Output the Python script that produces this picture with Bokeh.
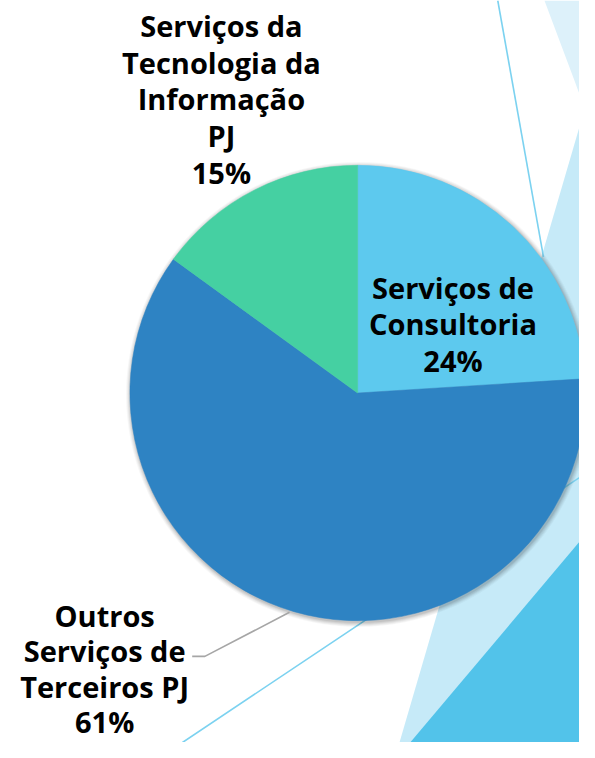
import math
from bokeh.plotting import figure
from bokeh.models import ColumnDataSource, Range1d
from bokeh.core.properties import value
from bokeh.embed import file_html
from bokeh.resources import INLINE

# ---- data ----
categories = ["Serviços de Consultoria",
              "Outros Serviços de Terceiros PJ",
              "Serviços da Tecnologia da Informação PJ"]
shares = [24, 61, 15]
label_lines = [["Serviços de", "Consultoria"],
               ["Outros", "Serviços de", "Terceiros PJ"],
               ["Serviços da", "Tecnologia da", "Informação", "PJ"]]
slice_colors = ["#5DC9EE", "#2E83C3", "#45D0A2"]

# ---- layout (reference-pixel coordinates, y downward -> negated) ----
W, H = 579, 742
CX, CY, R = 367, 401, 234
label_pos = [(465, 293, 37.3), (107, 628, 36.3), (227, 26, 37.3)]
FONT = "Open Sans"
FSIZE = "29px"

def Y(py):
    return -py

p = figure(width=W, height=H, output_backend="svg", toolbar_location=None,
           x_range=Range1d(0, 595), y_range=Range1d(Y(758), Y(0)),
           min_border=0, background_fill_color="white", border_fill_color="white")
p.axis.visible = False
p.grid.visible = False
p.outline_line_color = None

# ---- background decoration ----
p.patch([559, 640, 640], [Y(0), Y(0), Y(215)], fill_color="#DDF1FA", line_color=None)
p.patch([410, 600, 640, 640], [Y(758), Y(112), Y(0), Y(800)], fill_color="#C6EAF8", line_color=None)
p.patch([421, 600, 640, 640], [Y(758), Y(547), Y(500), Y(800)], fill_color="#52C3EA", line_color=None)
p.line([511, 558], [Y(0), Y(262)], line_color="#7CD2F0", line_width=1.6)
p.line([187, 372, 600], [Y(758), Y(635), Y(484)], line_color="#7CD2F0", line_width=1.6)

# ---- soft shadow ----
for k, a in [(5, 0.03), (4, 0.04), (3, 0.05), (2, 0.06), (1, 0.07)]:
    p.circle(x=[CX + 1], y=[Y(CY + 1.5)], radius=R + k, fill_color="black",
             fill_alpha=a, line_color=None)

# ---- pie ----
total = sum(shares)
starts, ends, cum = [], [], 0.0
for v in shares:
    starts.append(math.pi / 2 - 2 * math.pi * cum / total)
    cum += v
    ends.append(math.pi / 2 - 2 * math.pi * cum / total)
src = ColumnDataSource(dict(cat=categories, start=starts, end=ends, color=slice_colors))
p.wedge(x=CX, y=Y(CY), radius=R, start_angle="start", end_angle="end",
        direction="clock", fill_color="color", line_color="color", line_width=0.5,
        source=src)

# ---- leader line ----
p.line([197, 210, 297], [Y(670), Y(670), Y(625)], line_color="#A6A6A6", line_width=1.6)

# ---- labels ----
xs, ys, texts = [], [], []
for lines, v, (lx, ly, step) in zip(label_lines, shares, label_pos):
    all_lines = lines + [f"{v}%"]
    for i, t in enumerate(all_lines):
        xs.append(lx)
        ys.append(Y(ly + i * step))
        texts.append(t)
p.text(x=xs, y=ys, text=texts, text_align="center", text_baseline="middle",
       text_font=value(FONT), text_font_size=FSIZE, text_font_style="bold",
       text_color="#000000")

open("out.html", "w").write(file_html(p, INLINE))
